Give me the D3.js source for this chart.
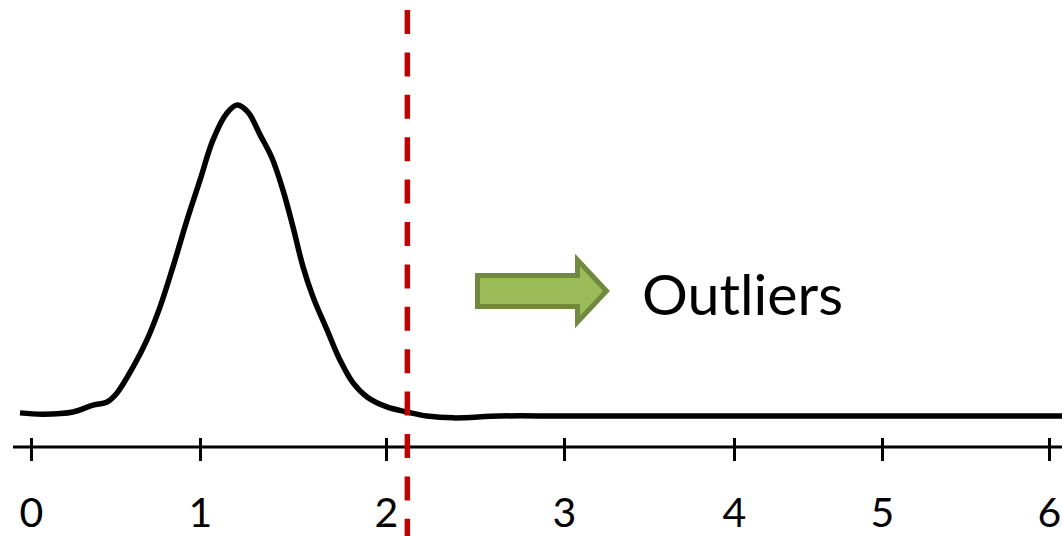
<!DOCTYPE html>
<html>
<head>
<meta charset="utf-8">
<script src="https://cdn.jsdelivr.net/npm/d3@7"></script>
<style>
  html, body { margin: 0; padding: 0; background: #fff; }
  svg { display: block; }
</style>
</head>
<body>
<svg id="chart" width="1062" height="536"></svg>
<script>
// ---- data ----
const tickValues = [0, 1, 2, 3, 4, 5, 6];
const tickLabels = ["0", "1", "2", "3", "4", "5", "6"];
// density curve (x in data units, y in relative density units)
const curveX = [-0.065, 0.071, 0.249, 0.367, 0.450, 0.509, 0.604, 0.686, 0.763, 0.840, 0.923, 1.000,
                1.070, 1.145, 1.199, 1.258, 1.323, 1.387, 1.446, 1.500, 1.554, 1.608, 1.683, 1.753,
                1.823, 1.898, 2.005, 2.118, 2.230, 2.380, 2.640, 3.000, 4.000, 5.000, 6.000, 6.080];
const curveY = [0.010, 0.006, 0.013, 0.035, 0.045, 0.074, 0.157, 0.244, 0.349, 0.478, 0.628, 0.756,
                0.885, 0.971, 0.997, 0.974, 0.901, 0.827, 0.724, 0.606, 0.478, 0.381, 0.276, 0.179,
                0.106, 0.061, 0.029, 0.013, 0.000, -0.006, 0.000, 0.000, 0.000, 0.000, 0.000, 0.000];
const threshold = [2.12];
const annotation = ["Outliers"];

// ---- scales ----
const svg = d3.select("#chart");
const axisY = 447;
const x = d3.scaleLinear()
  .domain(tickValues)
  .range([31, 200, 386, 564, 734, 882, 1049]);
const y = d3.scaleLinear().domain([0, 1]).range([416, 104]);

// ---- axis ----
const axis = d3.axisBottom(x)
  .tickValues(tickValues)
  .tickFormat((d, i) => tickLabels[i])
  .tickSizeInner(14)
  .tickSizeOuter(0)
  .tickPadding(0);
const gAxis = svg.append("g").attr("transform", `translate(0,${axisY})`).call(axis);
gAxis.select(".domain").remove();
gAxis.insert("line", ":first-child")
  .attr("x1", 13).attr("x2", 1062).attr("y1", 0).attr("y2", 0)
  .attr("stroke", "#000").attr("stroke-width", 3);
gAxis.selectAll(".tick line")
  .attr("y1", -9).attr("y2", 14)
  .attr("stroke", "#000").attr("stroke-width", 3);
gAxis.selectAll(".tick text")
  .attr("y", 80).attr("dy", 0)
  .attr("fill", "#000")
  .style("font-family", "Lato, 'Open Sans', sans-serif")
  .style("font-size", "41px");

// ---- density curve ----
const line = d3.line()
  .x((d, i) => x(curveX[i]))
  .y((d, i) => y(curveY[i]))
  .curve(d3.curveCatmullRom.alpha(0.5));
svg.append("path")
  .attr("d", line(curveX))
  .attr("fill", "none")
  .attr("stroke", "#000")
  .attr("stroke-width", 5.5)
  .attr("stroke-linejoin", "round");

// ---- threshold dashed line ----
svg.selectAll(".thr").data(threshold).enter().append("line")
  .attr("x1", d => x(d)).attr("x2", d => x(d))
  .attr("y1", 10).attr("y2", 536)
  .attr("stroke", "#C00000").attr("stroke-width", 5.5)
  .attr("stroke-dasharray", "24,18.4");

// ---- arrow + label ----
const arrowPath = "M477.5,275.5 L577.5,275.5 L577.5,260 L606.5,291 L577.5,322 L577.5,306.5 L477.5,306.5 Z";
svg.append("path")
  .attr("d", arrowPath)
  .attr("fill", "#9BBB59")
  .attr("stroke", "#71893F")
  .attr("stroke-width", 5)
  .attr("stroke-linejoin", "miter");

svg.selectAll(".ann").data(annotation).enter().append("text")
  .attr("x", 642).attr("y", 315)
  .attr("fill", "#000")
  .style("font-family", "Lato, 'Open Sans', sans-serif")
  .style("font-size", "57px")
  .attr("textLength", 201)
  .attr("lengthAdjust", "spacingAndGlyphs")
  .text(d => d);
</script>
</body>
</html>
